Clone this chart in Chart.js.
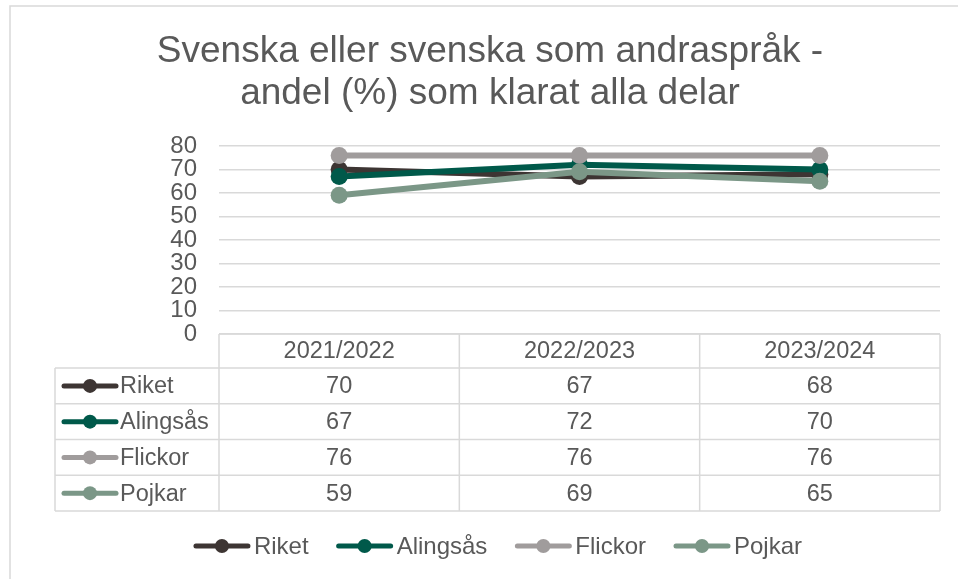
<!DOCTYPE html>
<html>
<head>
<meta charset="utf-8">
<script src="https://cdn.jsdelivr.net/npm/chart.js@4"></script>
<style>
  html, body { margin: 0; padding: 0; background: #ffffff; }
  #wrap { width: 958px; height: 579px; }
</style>
</head>
<body>
<div id="wrap"><canvas id="c" width="958" height="579"></canvas></div>
<script>
// ---- data ----
const categories = ['2021/2022', '2022/2023', '2023/2024'];
const seriesNames = ['Riket', 'Alingsås', 'Flickor', 'Pojkar'];
const riket = [70, 67, 68];
const alingsas = [67, 72, 70];
const flickor = [76, 76, 76];
const pojkar = [59, 69, 65];
const titleLines = ['Svenska eller svenska som andraspråk -', 'andel (%) som klarat alla delar'];
const yMin = 0, yMax = 80, yStep = 10;

// ---- styles ----
const colors = ['#3d3533', '#00594a', '#a09c9c', '#7b9787'];
const textColor = '#595959';
const gridColor = '#d9d9d9';
const FONT = "'Liberation Sans', Arial, sans-serif";

const seriesValues = [riket, alingsas, flickor, pojkar];

const datasets = seriesNames.map((name, i) => ({
  label: name,
  data: seriesValues[i],
  borderColor: colors[i],
  backgroundColor: colors[i],
  pointBackgroundColor: colors[i],
  pointBorderColor: colors[i],
  pointBorderWidth: 0,
  pointRadius: 8.5,
  pointHoverRadius: 8.5,
  borderWidth: 6,
  tension: 0,
  clip: false,
  order: seriesNames.length - 1 - i
}));

const extrasPlugin = {
  id: 'extras',
  afterDraw(chart) {
    const ctx = chart.ctx;
    const ca = chart.chartArea;
    const xs = chart.scales.x;
    ctx.save();

    // outer border
    ctx.strokeStyle = gridColor;
    ctx.lineWidth = 1.5;
    ctx.strokeRect(10, 6, 1000, 600);

    // title
    ctx.fillStyle = textColor;
    ctx.font = '37px ' + FONT;
    ctx.textAlign = 'center';
    ctx.textBaseline = 'alphabetic';
    ctx.fillText(titleLines[0], 490, 62);
    ctx.fillText(titleLines[1], 490, 104);

    // data table
    const tableLeft = 55;
    const top = ca.bottom;
    const headerH = 34;
    const rowH = 35.75;
    const n = categories.length;
    const colW = (ca.right - ca.left) / n;
    const bottom = top + headerH + rowH * seriesNames.length;

    ctx.strokeStyle = gridColor;
    ctx.lineWidth = 1.5;
    ctx.beginPath();
    ctx.moveTo(ca.left, top); ctx.lineTo(ca.right, top);
    for (let r = 0; r <= seriesNames.length; r++) {
      const y = top + headerH + r * rowH;
      ctx.moveTo(tableLeft, y); ctx.lineTo(ca.right, y);
    }
    ctx.moveTo(tableLeft, top + headerH); ctx.lineTo(tableLeft, bottom);
    for (let c = 0; c <= n; c++) {
      const x = ca.left + c * colW;
      ctx.moveTo(x, top); ctx.lineTo(x, bottom);
    }
    ctx.stroke();

    ctx.font = '23.5px ' + FONT;
    ctx.fillStyle = textColor;
    ctx.textBaseline = 'middle';
    ctx.textAlign = 'center';
    categories.forEach((cat, c) => {
      ctx.fillText(cat, xs.getPixelForValue(c), top + headerH / 2 + 1);
    });
    seriesNames.forEach((name, r) => {
      const yc = top + headerH + r * rowH + rowH / 2 + 1;
      seriesValues[r].forEach((v, c) => {
        ctx.fillStyle = textColor;
        ctx.textAlign = 'center';
        ctx.fillText(String(v), xs.getPixelForValue(c), yc);
      });
      drawKey(ctx, 62, yc - 1, colors[r]);
      ctx.fillStyle = textColor;
      ctx.textAlign = 'left';
      ctx.fillText(name, 120, yc);
    });

    // bottom legend
    const legY = 546;
    const keyW = 56, keyGap = 4, itemGap = 28;
    ctx.font = '24px ' + FONT;
    let total = 0;
    const widths = seriesNames.map(nm => ctx.measureText(nm).width);
    widths.forEach((w, i) => { total += keyW + keyGap + w + (i < widths.length - 1 ? itemGap : 0); });
    let x = 498 - total / 2;
    seriesNames.forEach((nm, i) => {
      drawKey(ctx, x, legY, colors[i]);
      ctx.fillStyle = textColor;
      ctx.textAlign = 'left';
      ctx.textBaseline = 'middle';
      ctx.fillText(nm, x + keyW + keyGap, legY + 1);
      x += keyW + keyGap + widths[i] + itemGap;
    });

    ctx.restore();

    function drawKey(ctx, x0, y, col) {
      ctx.save();
      ctx.strokeStyle = col;
      ctx.lineWidth = 5;
      ctx.lineCap = 'round';
      ctx.beginPath();
      ctx.moveTo(x0 + 2, y); ctx.lineTo(x0 + 54, y);
      ctx.stroke();
      ctx.fillStyle = col;
      ctx.beginPath();
      ctx.arc(x0 + 28, y, 7, 0, Math.PI * 2);
      ctx.fill();
      ctx.restore();
    }
  }
};

new Chart(document.getElementById('c'), {
  type: 'line',
  data: { labels: categories, datasets: datasets },
  options: {
    responsive: false,
    animation: false,
    layout: { padding: { left: 0, top: 146, right: 18, bottom: 245 } },
    plugins: {
      legend: { display: false },
      title: { display: false },
      tooltip: { enabled: false }
    },
    scales: {
      x: {
        type: 'category',
        offset: true,
        ticks: { display: false },
        grid: { display: false, drawTicks: false },
        border: { display: false },
        afterFit(scale) { scale.height = 0; }
      },
      y: {
        min: yMin,
        max: yMax,
        ticks: {
          stepSize: yStep,
          autoSkip: false,
          color: textColor,
          font: { family: FONT, size: 24 },
          padding: 22
        },
        grid: { color: gridColor, lineWidth: 1.5, drawTicks: false },
        border: { display: false },
        afterFit(scale) { scale.width = 219; }
      }
    }
  },
  plugins: [extrasPlugin]
});
</script>
</body>
</html>
